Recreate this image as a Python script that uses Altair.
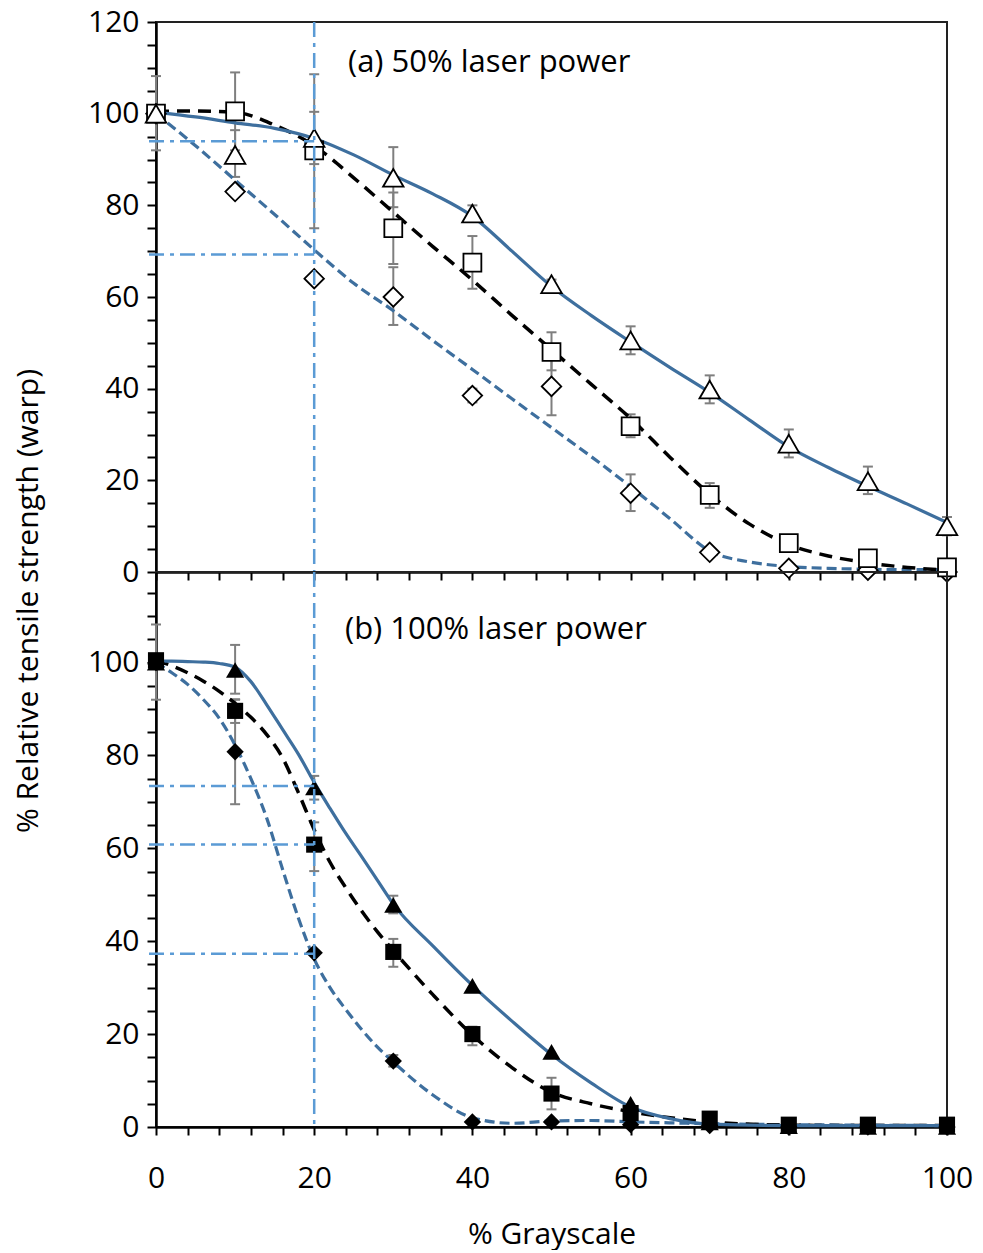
import altair as alt
import pandas as pd

FONT = "Open Sans"

# ---------------- data ----------------
xs = [0, 10, 20, 30, 40, 50, 60, 70, 80, 90, 100]

# (a) 50% laser power - measured points
a_tri = [100, 91, 94.7, 86, 78.2, 62.8, 50.5, 39.8, 28, 19.8, 10]
a_tri_lo = [None, 86.2, 89, 79.6, 76.6, 61.8, 47.5, 36.8, 25, 17, 8]
a_tri_hi = [None, 96.4, 100.4, 92.7, 80, 63.8, 53.6, 42.9, 31.1, 23, 12]
a_sq = [100, 100.5, 92, 75, 67.5, 48, 31.8, 16.8, 6.3, 3, 1]
a_sq_lo = [92, 92, 75, 67.2, 61.8, 44, 29.4, 14, 5.3, 2, None]
a_sq_hi = [108.2, 109, 108.6, 82.8, 73.3, 52.3, 34.4, 19.4, 7.3, 4, None]
a_dia = [100, 83, 64, 60, 38.5, 40.5, 17.2, 4.3, 0.8, 0.4, 0]
a_dia_lo = [None, None, None, 53.9, 37, 34.2, 13.3, None, None, None, None]
a_dia_hi = [None, None, None, 66.5, 40, 46.8, 21.3, None, None, None, None]

# (a) fitted curves
ca_x = [0, 5, 10, 15, 20, 25, 30, 35, 40, 45, 50, 55, 60, 65, 70, 75, 80, 85, 90, 95, 100]
ca_tri = [100.3, 99.3, 98, 96.8, 94.6, 91, 86.6, 82.5, 77.6, 70, 62.3, 56, 50.2, 44.6, 39.2,
          33.2, 27.3, 22.8, 18.7, 14.8, 10.8]
ca_sq = [100.5, 100.6, 100.3, 97.5, 93, 86, 78.5, 71, 63.7, 56, 48.5, 41, 33.5, 25, 17,
         10.5, 6, 3.5, 2, 1, 0.4]
ca_dia = [100, 93, 85.5, 78, 70.3, 63, 57, 50.5, 44.2, 37.8, 31.5, 25.2, 18.6, 11.6, 4.6,
          2.2, 1.2, 0.8, 0.6, 0.5, 0.5]
a_hlines = [94, 69.3]

# (b) 100% laser power - measured points
b_tri = [100, 98.4, 73.1, 47.8, 30.4, 16.2, 5, 1, 0.2, 0, 0]
b_tri_lo = [None, 93.3, 70.5, 46, None, None, None, None, None, None, None]
b_tri_hi = [None, 103.8, 75.6, 49.8, None, None, None, None, None, None, None]
b_sq = [100.5, 89.6, 60.8, 37.7, 20, 7.2, 3, 1.8, 0.5, 0.5, 0.5]
b_sq_lo = [92, 87, 55.1, 34.5, 17.6, 3.8, 1.5, None, None, None, None]
b_sq_hi = [108.2, 92, 65.6, 40.5, 21.6, 10.6, 4.5, None, None, None, None]
b_dia = [100, 80.8, 37.5, 14.2, 1.1, 1.1, 0.5, 0.3, 0, 0, 0]
b_dia_lo = [None, 69.5, None, 13, None, None, None, None, None, None, None]
b_dia_hi = [None, 92.1, None, 15.5, None, None, None, None, None, None, None]

# (b) fitted curves
cb_x = [0, 2, 4, 6, 8, 10, 12, 14, 16, 18, 20, 22, 24, 26, 28, 30, 35, 40, 45, 50, 55, 60,
        65, 70, 80, 90, 100]
cb_tri = [100.3, 100.3, 100.2, 100.1, 99.8, 99.0, 95.9, 90.9, 85.6, 80.3, 74.2, 68.6, 63.2,
          58.2, 53.1, 48.0, 39.0, 30.5, 22.8, 15.6, 9.5, 4.3, 1.8, 0.6, 0.3, 0.3, 0.3]
cb_sq = [100.5, 99.3, 97.8, 96, 93.8, 91.2, 88.2, 84.5, 79.5, 72, 64, 57, 51.5, 46.5, 42,
         38, 28.5, 19.8, 12.8, 7.5, 5, 3.3, 2, 1.1, 0.4, 0.3, 0.3]
cb_dia = [100, 97.8, 95.3, 92, 88, 82.2, 75, 66.5, 55.5, 45, 36.2, 30, 25.3, 21, 17.2, 14,
          6.9, 2, 0.8, 1.3, 1.4, 1.1, 0.9, 0.7, 0.5, 0.4, 0.3]
b_hlines = [73.4, 60.8, 37.3]

x_ticks = list(range(0, 101, 4))
vline_x = 20

# ---------------- styles ----------------
BLUE = "#3E6F9E"
REF = "#5B9BD5"
W = 791
FS = 30


def pts_df(y, lo, hi):
    return pd.DataFrame({"x": xs, "y": y, "lo": lo, "hi": hi})


def panel(series, curves, hlines, label, lx, ly, height, ymax, yvals, bottom, filled, extra=None):
    xsc = alt.Scale(domain=[0, 100], nice=False)
    ysc = alt.Scale(domain=[0, ymax], nice=False, zero=True)
    xaxis = alt.Axis(values=x_ticks, labelExpr="datum.value % 20 == 0 ? datum.label : ''",
                     labels=bottom, title="% Grayscale" if bottom else None,
                     tickSize=8, labelPadding=28, titlePadding=26, labelFlush=False,
                     grid=False)
    yaxis = alt.Axis(values=yvals, labelExpr="datum.value % 20 == 0 ? datum.label : ''",
                     title=None, tickSize=9, labelPadding=8, grid=False)
    X = alt.X("x:Q", scale=xsc, axis=xaxis)
    Y = alt.Y("y:Q", scale=ysc, axis=yaxis)
    layers = []
    # error bars
    for y, lo, hi, _ in series:
        df = pts_df(y, lo, hi).dropna()
        base = alt.Chart(df)
        layers.append(base.mark_rule(color="#7F7F7F", strokeWidth=2).encode(
            x=X, y=alt.Y("lo:Q", scale=ysc, axis=yaxis), y2="hi:Q"))
        for f in ["lo", "hi"]:
            layers.append(base.mark_rule(color="#7F7F7F", strokeWidth=2, xOffset=-5, x2Offset=5).encode(
                x=X, x2="x:Q", y=alt.Y(f + ":Q", scale=ysc, axis=yaxis)))
    # curves
    for cx, cy, color, dash, width in curves:
        df = pd.DataFrame({"x": cx, "y": cy})
        kw = dict(color=color, strokeWidth=width, interpolate="monotone")
        if dash:
            kw["strokeDash"] = dash
        layers.append(alt.Chart(df).mark_line(**kw).encode(x=X, y=Y))
    # markers (diamonds first, triangles on top)
    for y, lo, hi, (shape, size) in reversed(series):
        df = pd.DataFrame({"x": xs, "y": y})
        if filled:
            m = alt.Chart(df).mark_point(shape=shape, size=size, filled=True, color="black",
                                         opacity=1)
        else:
            m = alt.Chart(df).mark_point(shape=shape, size=size, filled=True, fill="white",
                                         stroke="black", strokeWidth=1.8, opacity=1)
        layers.append(m.encode(x=X, y=Y))
    # reference dash-dot lines
    hdf = pd.DataFrame({"y": hlines, "x": [0] * len(hlines), "x2": [vline_x] * len(hlines)})
    layers.append(alt.Chart(hdf).mark_rule(color=REF, strokeWidth=2.5, xOffset=-7,
                                            strokeDash=[15, 6, 4, 6]).encode(
        y=Y, x=X, x2="x2:Q"))
    layers.append(alt.Chart(pd.DataFrame({"x": [vline_x]})).mark_rule(
        color=REF, strokeWidth=2.5, strokeDash=[15, 6, 4, 6]).encode(
        x=X, y=alt.value(0), y2=alt.value(height)))
    # panel label
    layers.append(alt.Chart(pd.DataFrame({"t": [label]})).mark_text(
        align="left", baseline="middle", font=FONT, fontSize=31, color="black").encode(
        text="t:N", x=alt.value(lx), y=alt.value(ly)))
    if extra is not None:
        layers.append(extra)
    return alt.layer(*layers).properties(width=W, height=height)


ytitle = alt.Chart(pd.DataFrame({"t": ["% Relative tensile strength (warp)"]})).mark_text(
    align="center", baseline="middle", angle=270, font=FONT, fontSize=FS, color="black").encode(
    text="t:N", x=alt.value(-127), y=alt.value(579))

top = panel(
    series=[(a_tri, a_tri_lo, a_tri_hi, ("triangle-up", 420)),
            (a_sq, a_sq_lo, a_sq_hi, ("square", 320)),
            (a_dia, a_dia_lo, a_dia_hi, ("diamond", 380))],
    curves=[(ca_x, ca_dia, BLUE, [10, 5], 3.2),
            (ca_x, ca_sq, "black", [13, 8], 3.5),
            (ca_x, ca_tri, BLUE, None, 3.2)],
    hlines=a_hlines, label="(a) 50% laser power", lx=192, ly=41, height=550, ymax=120,
    yvals=list(range(0, 121, 5)), bottom=False, filled=False, extra=ytitle)

bottom = panel(
    series=[(b_tri, b_tri_lo, b_tri_hi, ("triangle-up", 330)),
            (b_sq, b_sq_lo, b_sq_hi, ("square", 260)),
            (b_dia, b_dia_lo, b_dia_hi, ("diamond", 300))],
    curves=[(cb_x, cb_dia, BLUE, [10, 5], 3.2),
            (cb_x, cb_sq, "black", [13, 8], 3.5),
            (cb_x, cb_tri, BLUE, None, 3.2)],
    hlines=b_hlines, label="(b) 100% laser power", lx=189, ly=58, height=555, ymax=119.5,
    yvals=list(range(0, 116, 5)), bottom=True, filled=True)

chart = alt.vconcat(top, bottom, spacing=0, bounds="flush").resolve_scale(
    y="independent"
).properties(
    background="white", padding={"top": -2, "left": 5, "right": 0, "bottom": 0}
).configure_view(
    stroke="#222", strokeWidth=2
).configure_axis(
    domainColor="black", domainWidth=2.5, tickColor="black", tickWidth=2,
    labelFont=FONT, labelFontSize=FS, labelColor="black", grid=False,
    titleFont=FONT, titleFontSize=FS, titleColor="black", titleFontWeight="normal"
)

chart.save("out.html", embed_options={"renderer": "svg", "actions": False})
